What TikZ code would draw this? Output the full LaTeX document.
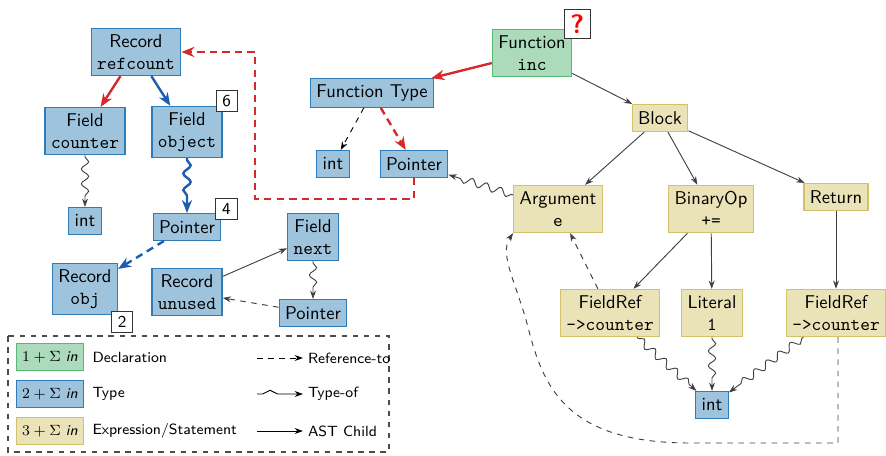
\documentclass[tikz,border=0pt]{standalone}
\usetikzlibrary{arrows.meta,decorations.pathmorphing}
\definecolor{declfill}{HTML}{ABDBBA}
\definecolor{decldraw}{HTML}{5AB872}
\definecolor{typefill}{HTML}{9DC3DD}
\definecolor{typedraw}{HTML}{2F7DB8}
\definecolor{exprfill}{HTML}{EBE3B8}
\definecolor{exprdraw}{HTML}{D3C26B}
\definecolor{refred}{HTML}{D7282B}
\definecolor{refblue}{HTML}{1B5FAE}
\begin{document}
\begin{tikzpicture}[x=0.019cm, y=-0.019cm, font=\sffamily,
  box/.style={draw, line width=0.7pt, align=center, inner sep=3.2pt, minimum height=14.5pt},
  decl/.style={box, fill=declfill, draw=decldraw},
  tbox/.style={box, fill=typefill, draw=typedraw},
  ebox/.style={box, fill=exprfill, draw=exprdraw},
  badge/.style={draw=black!80, fill=white, line width=0.6pt, minimum size=11.5pt,
                inner sep=0pt, font=\sffamily\small},
  child/.style={draw=black!75, line width=0.5pt, -{Stealth[length=4.5pt, width=3.2pt]}},
  refto/.style={child, dashed},
  typeof/.style={child, decorate, decoration={snake, amplitude=2pt,
                 segment length=8pt, pre length=1pt, post length=5pt}},
  hot/.style={line width=1.3pt, -{Stealth[length=7pt, width=5.5pt]}},
  hotdash/.style={hot, dash pattern=on 4pt off 2.8pt}
]
  \useasboundingbox (0,0) rectangle (886,456);

  \node[tbox] (rec)   at (136,52)  {Record\\\texttt{refcount}};
  \node[tbox] (fcnt)  at (85,131)  {Field\\\texttt{counter}};
  \node[tbox] (fobj)  at (187,132) {Field\\\texttt{object}};
  \node[tbox] (intl)  at (85,221)  {int};
  \node[tbox] (ptrl)  at (187,227) {Pointer};
  \node[tbox] (robj)  at (85,289)  {Record\\\texttt{obj}};
  \node[tbox] (runus) at (187,292) {Record\\\texttt{unused}};
  \node[tbox] (fnext) at (313,237) {Field\\\texttt{next}};
  \node[tbox] (ptrb)  at (313,313) {Pointer};
  \node[tbox] (ftype) at (372,93)  {Function Type};
  \node[tbox] (intm)  at (333,164) {int};
  \node[tbox] (ptrm)  at (414,164) {Pointer};
  \node[decl] (fun)   at (532,53)  {Function\\\texttt{inc}};
  \node[ebox] (blk)   at (660,118) {Block};
  \node[ebox] (arg)   at (558,209) {Argument\\\texttt{e}};
  \node[ebox] (binop) at (711,209) {BinaryOp\\\texttt{+=}};
  \node[ebox] (ret)   at (836,197) {Return};
  \node[ebox] (frl)   at (610,313) {FieldRef\\\texttt{->counter}};
  \node[ebox] (lit)   at (712,313) {Literal\\\texttt{1}};
  \node[ebox] (frr)   at (836,313) {FieldRef\\\texttt{->counter}};
  \node[tbox] (intb)  at (712,405) {int};

  \node[badge] (b6) at ([shift={(4,-5)}]fobj.north east) {6};
  \node[badge] (b4) at ([shift={(5,-4)}]ptrl.north east) {4};
  \node[badge] (b2) at ([shift={(4,7)}]robj.south east) {2};
  \node[badge, minimum width=14pt, minimum height=16pt, text=red,
        font=\sffamily\Large\bfseries] (bq) at ([shift={(5,-5)}]fun.north east) {?};

  \draw[hot, draw=refred] (rec) -- (fcnt);
  \draw[hot, draw=refblue] (rec) -- (fobj);
  \draw[typeof] (fcnt) -- (intl);
  \draw[hot, draw=refblue, decorate, decoration={snake, amplitude=2pt,
        segment length=9pt, pre length=1pt, post length=7pt}] (fobj) -- (ptrl);
  \draw[hotdash, draw=refblue] (ptrl) -- (robj);
  \draw[child] (runus) -- (fnext);
  \draw[refto] (ptrb) -- (runus);
  \draw[typeof] (fnext) -- (ptrb);

  \draw[hot, draw=refred] (fun) -- (ftype);
  \draw[child] (fun) -- (blk);
  \draw[refto, draw=black] (ftype) -- (intm);
  \draw[hotdash, draw=refred] (ftype) -- (ptrm);
  \coordinate (turn) at (255,199);
  \draw[hotdash, draw=refred] (ptrm.south) |- (turn) |- (rec.east);

  \draw[child] (blk) -- (arg);
  \draw[child] (blk) -- (binop);
  \draw[child] (blk) -- (ret);
  \draw[typeof] (arg) -- (ptrm);
  \draw[child] (binop) -- (frl);
  \draw[child] (binop) -- (lit);
  \draw[child] (ret) -- (frr);
  \draw[refto] (frl) -- (arg);
  \draw[typeof] (frl) -- (intb);
  \draw[typeof] (lit) -- (intb);
  \draw[typeof] (frr) -- (intb);
  \coordinate (loopa) at (838,443);
  \coordinate (loopb) at (690,443);
  \draw[refto] (frr.south -| loopa) -- (loopa) -- (loopb)
    .. controls (570,443) and (545,390) .. (530,335)
    .. controls (518,285) and (498,255) .. (arg.south west);

  \draw[black!70, dashed, line width=0.6pt] (8,336) rectangle (389,452);
  \begin{scope}[font=\sffamily\footnotesize]
    \node[decl, minimum width=36pt] (k1) at (50,357) {$1+\Sigma$ \textit{in}};
    \node[tbox, minimum width=36pt] (k2) at (50,394) {$2+\Sigma$ \textit{in}};
    \node[ebox, minimum width=36pt] (k3) at (50,431) {$3+\Sigma$ \textit{in}};
    \node[anchor=west] (k1t) at (86,357) {Declaration};
    \node[anchor=west] (k2t) at (86,394) {Type};
    \node[anchor=west] (k3t) at (86,431) {Expression/Statement};
    \coordinate (a1) at (257,358);
    \coordinate (a2) at (257,394);
    \coordinate (a3) at (257,431);
    \node[anchor=west, inner sep=2.5pt] (a1t) at (303,358) {Reference-to};
    \node[anchor=west, inner sep=2.5pt] (a2t) at (303,394) {Type-of};
    \node[anchor=west, inner sep=2.5pt] (a3t) at (303,431) {AST Child};
    \draw[refto, draw=black] (a1) -- (a1t);
    \draw[child, draw=black, decorate, decoration={snake, amplitude=2pt,
          segment length=13pt, pre length=3pt, post length=9pt}] (a2) -- (a2t);
    \draw[child, draw=black] (a3) -- (a3t);
  \end{scope}
\end{tikzpicture}
\end{document}
